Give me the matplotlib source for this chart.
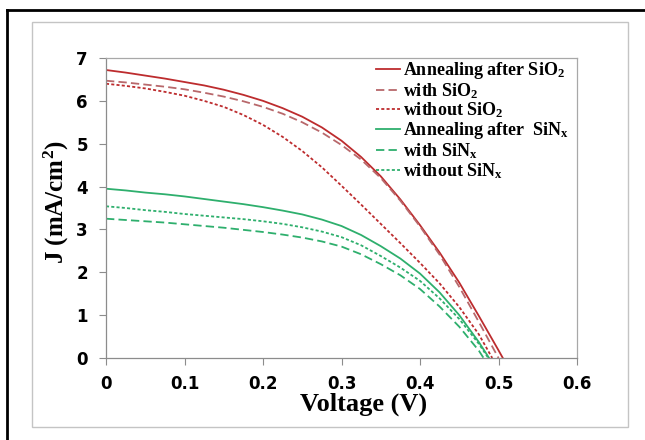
import matplotlib
matplotlib.use("Agg")
import matplotlib.pyplot as plt
from matplotlib.patches import Rectangle
from matplotlib.lines import Line2D

# J-V curves, voltage in V, current density in mA/cm2
v_grid = [0, 0.025, 0.05, 0.075, 0.1, 0.125, 0.15, 0.175, 0.2, 0.225, 0.25, 0.275,
          0.3, 0.325, 0.35, 0.375, 0.4, 0.425, 0.45, 0.475]

v_ann_sio2 = v_grid + [0.5, 0.5055]
j_ann_sio2 = [6.72, 6.66, 6.59, 6.52, 6.44, 6.36, 6.26, 6.14, 6.00, 5.83, 5.63, 5.38,
              5.07, 4.69, 4.24, 3.70, 3.10, 2.46, 1.76, 0.98, 0.18, 0.0]

v_with_sio2 = v_grid + [0.5]
j_with_sio2 = [6.47, 6.43, 6.38, 6.33, 6.27, 6.19, 6.10, 5.99, 5.86, 5.70, 5.50, 5.26,
               4.97, 4.63, 4.20, 3.67, 3.07, 2.41, 1.66, 0.84, 0.0]

v_wo_sio2 = v_grid + [0.492]
j_wo_sio2 = [6.40, 6.35, 6.29, 6.21, 6.12, 6.00, 5.86, 5.67, 5.44, 5.16, 4.83, 4.45,
             4.02, 3.58, 3.13, 2.68, 2.22, 1.74, 1.19, 0.55, 0.0]

v_ann_sinx = v_grid + [0.488]
j_ann_sinx = [3.95, 3.91, 3.86, 3.82, 3.77, 3.71, 3.65, 3.59, 3.52, 3.44, 3.35, 3.23,
              3.08, 2.87, 2.61, 2.32, 1.97, 1.53, 1.00, 0.37, 0.0]

v_with_sinx = v_grid + [0.481]
j_with_sinx = [3.25, 3.22, 3.19, 3.16, 3.12, 3.08, 3.04, 2.99, 2.94, 2.88, 2.81, 2.72,
               2.60, 2.42, 2.19, 1.93, 1.61, 1.20, 0.73, 0.17, 0.0]

v_wo_sinx = v_grid + [0.487]
j_wo_sinx = [3.54, 3.50, 3.45, 3.41, 3.36, 3.32, 3.28, 3.24, 3.19, 3.13, 3.05, 2.95,
             2.82, 2.63, 2.38, 2.11, 1.80, 1.39, 0.91, 0.33, 0.0]

labels = [r"Annealing after SiO$_\mathrm{2}$", r"with SiO$_\mathrm{2}$", r"without SiO$_\mathrm{2}$",
          r"Annealing after  SiN$_\mathrm{x}$", r"with SiN$_\mathrm{x}$", r"without SiN$_\mathrm{x}$"]
x_ticks = [0, 0.1, 0.2, 0.3, 0.4, 0.5, 0.6]
x_ticklabels = ["0", "0.1", "0.2", "0.3", "0.4", "0.5", "0.6"]
y_ticks = [0, 1, 2, 3, 4, 5, 6, 7]

plt.rcParams["lines.scale_dashes"] = False
plt.rcParams["mathtext.fontset"] = "custom"
plt.rcParams["mathtext.rm"] = "Liberation Serif:bold"
plt.rcParams["mathtext.it"] = "Liberation Serif:bold"
plt.rcParams["mathtext.bf"] = "Liberation Serif:bold"

red = "#BD2C2E"
red_dash = "#B8686B"
green = "#2EAF6D"
dashed = (0, (6, 3))
dotted = (0, (2.2, 1.6))

fig = plt.figure(figsize=(6.45, 4.4), dpi=100)
W, H = 645, 440
ax = fig.add_axes([106 / W, 1 - 358 / H, (577 - 106) / W, (358 - 58) / H])

series = [
    (v_ann_sio2, j_ann_sio2, red, "-"),
    (v_with_sio2, j_with_sio2, red_dash, dashed),
    (v_wo_sio2, j_wo_sio2, red, dotted),
    (v_ann_sinx, j_ann_sinx, green, "-"),
    (v_with_sinx, j_with_sinx, green, dashed),
    (v_wo_sinx, j_wo_sinx, green, dotted),
]
for (v, j, c, ls), lab in zip(series, labels):
    ax.plot(v, j, color=c, linestyle=ls, lw=1.3, label=lab)

ax.set_xlim(0, 0.6)
ax.set_ylim(0, 7)
ax.set_xticks(x_ticks)
ax.set_xticklabels(x_ticklabels)
ax.set_yticks(y_ticks)
for lbl in ax.get_xticklabels() + ax.get_yticklabels():
    lbl.set_fontfamily("DejaVu Sans")
    lbl.set_fontweight("bold")
    lbl.set_fontsize(12)
ax.tick_params(axis="both", direction="out", length=5, width=0.8, color="#8C8C8C")
ax.tick_params(axis="x", pad=7)
ax.tick_params(axis="y", pad=8)

for side in ["left", "bottom"]:
    ax.spines[side].set_color("#8C8C8C")
    ax.spines[side].set_linewidth(0.9)
for side in ["top", "right"]:
    ax.spines[side].set_color("#A8A8A8")
    ax.spines[side].set_linewidth(0.9)

ax.set_xlabel("Voltage (V)", family="Liberation Serif", weight="bold", fontsize=19)
ax.xaxis.set_label_coords((364 - 106) / 471, (358 - 404) / 300)
ax.xaxis.label.set_va("center")
ax.set_ylabel(r"J (mA/cm$^\mathrm{2}$)", family="Liberation Serif", weight="bold", fontsize=18)
ax.yaxis.set_label_coords((56 - 106) / 471, (358 - 202) / 300)
ax.yaxis.label.set_va("center")

leg = ax.legend(loc="upper left", bbox_to_anchor=(376 / W, 1 - 60 / H), bbox_transform=fig.transFigure,
                frameon=False, borderpad=0, borderaxespad=0, handlelength=1.35, handletextpad=0.15,
                labelspacing=0.0, prop={"family": "Liberation Serif", "weight": "bold", "size": 13})

# chart area border and outer frame
fig.add_artist(Rectangle((32 / W, 1 - 427 / H), (628 - 32) / W, (427 - 22) / H,
                         transform=fig.transFigure, fill=False, ec="#C4C4C4", lw=1))
fig.add_artist(Line2D([7 / W, 7 / W], [0, 1 - 10 / H], transform=fig.transFigure, color="black", lw=2))
fig.add_artist(Line2D([7 / W, 1], [1 - 10 / H, 1 - 10 / H], transform=fig.transFigure, color="black", lw=2))

fig.savefig("out.png", dpi=100)
